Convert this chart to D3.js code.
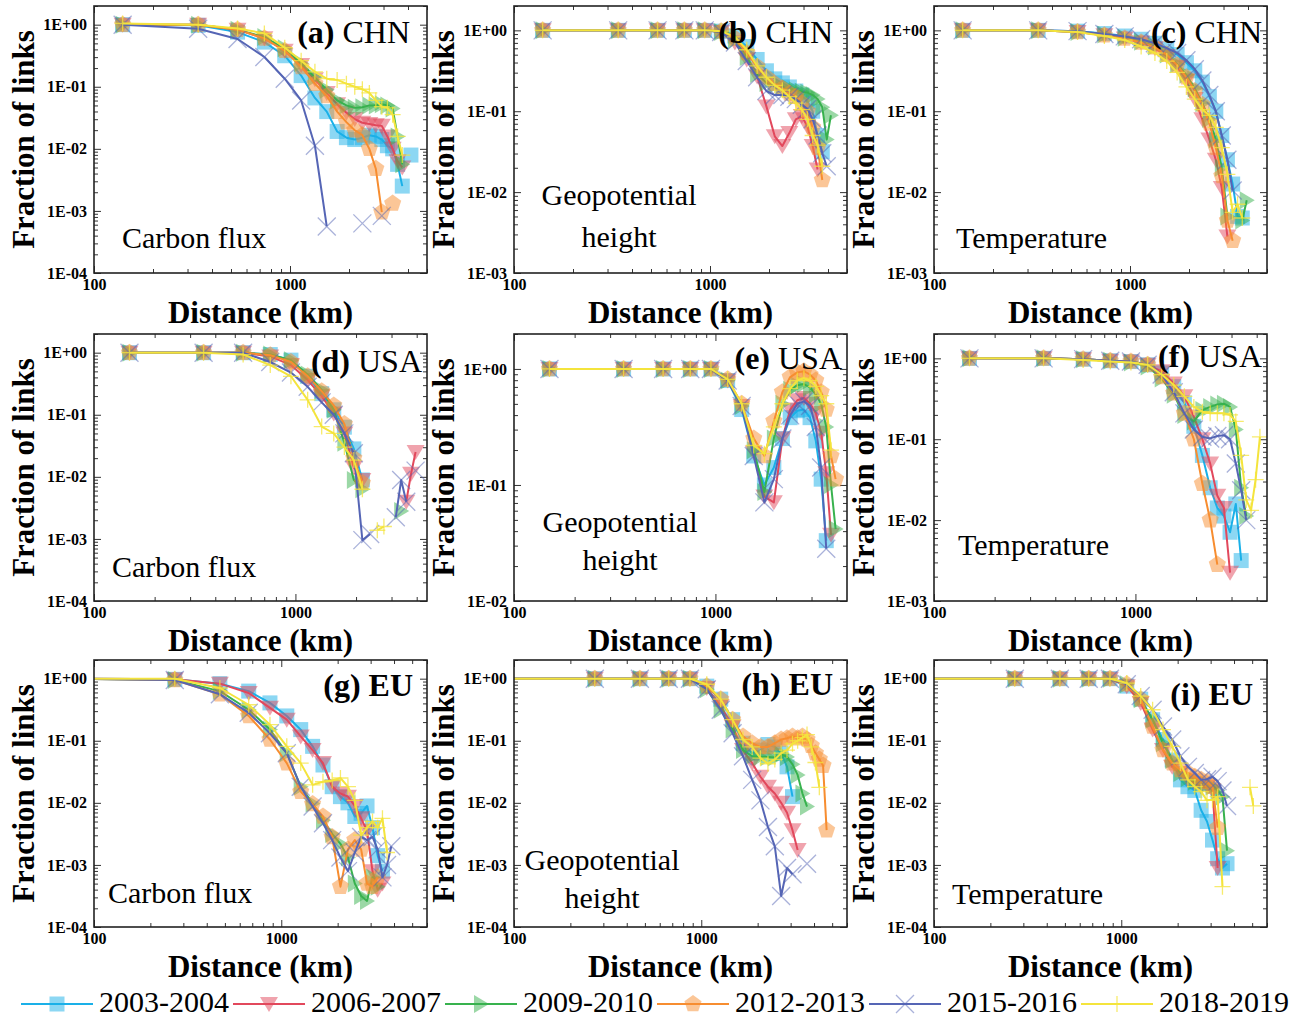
<!DOCTYPE html>
<html>
<head>
<meta charset="utf-8">
<script src="https://cdn.jsdelivr.net/npm/d3@7"></script>
<style>
  body { margin: 0; background: #fff; }
  text { font-family: "Liberation Serif", "Times New Roman", serif; }
</style>
</head>
<body>
<script>
// periods and their colours
var periods = ["2003-2004", "2006-2007", "2009-2010", "2012-2013", "2015-2016", "2018-2019"];
var colors = ["#1ab0e8", "#e2485c", "#38b24e", "#f78d30", "#5565b5", "#f4e43c"];
var shapes = ["square", "triDown", "triRight", "pentagon", "x", "plus"];

// distance bins (km)
var chnDist = [140, 340, 540, 740, 940, 1140, 1340, 1540, 1740, 1940, 2140, 2340, 2540, 2740, 2940, 3140, 3340, 3540, 3740, 3940, 4140];
var usaDist = [150, 350, 550, 750, 950, 1150, 1350, 1550, 1750, 1950, 2150, 2350, 2550, 2750, 2950, 3150, 3350, 3550, 3750, 3950, 4150];
var euDist = [70, 270, 470, 670, 870, 1070, 1270, 1470, 1670, 1870, 2070, 2270, 2470, 2670, 2870, 3070, 3270, 3470, 3670, 3870, 4070, 4270, 4470, 4670, 4870, 5070];

// fraction of links, given as log10 exponent (null = no point)
// (a) CHN carbon flux
var a2003 = [0, -0.01, -0.12, -0.28, -0.5, -0.82, -1.18, -1.4, -1.72, -1.82, -1.85, -1.82, -1.78, -1.8, -1.85, -1.95, -2.0, -2.25, -2.6, null, -2.1];
var a2006 = [0, 0, -0.08, -0.22, -0.42, -0.65, -0.88, -1.1, -1.28, -1.42, -1.52, -1.58, -1.6, -1.62, -1.63, -1.8, -2.0, -2.2, -2.3];
var a2009 = [0, 0, -0.08, -0.2, -0.38, -0.62, -0.85, -1.05, -1.22, -1.3, -1.34, -1.33, -1.3, -1.3, -1.28, -1.3, -1.35, -1.8, -2.25];
var a2012 = [0, 0, -0.08, -0.22, -0.42, -0.68, -0.95, -1.15, -1.4, -1.57, -1.7, -1.78, -2.0, -2.32, -3.02, null, -2.88];
var a2015 = [0, -0.065, -0.23, -0.52, -0.87, -1.22, -1.95, -3.25, null, null, null, -3.2, null, null, -3.08];
var a2018 = [0.02, 0, -0.06, -0.14, -0.37, -0.58, -0.76, -0.87, -0.89, -0.95, -1.0, -1.04, -1.1, -1.22, -1.32, -1.34, -1.45, -1.8, -2.1];
// (b) CHN geopotential height
var b2003 = [0, 0, 0, 0, 0, -0.01, -0.07, -0.2, -0.36, -0.5, -0.6, -0.65, -0.7, -0.75, -0.8, -0.88, -1.0, -1.3, -1.5];
var b2006 = [0, 0, 0, 0, 0, -0.02, -0.15, -0.36, -0.57, -0.94, -1.31, -1.43, -1.27, -1.1, -1.06, -1.19, -1.43, -1.72];
var b2009 = [0, 0, 0, 0, 0, -0.02, -0.12, -0.33, -0.54, -0.65, -0.68, -0.7, -0.72, -0.74, -0.76, -0.77, -0.8, -0.85, -0.95, -1.35, -1.05];
var b2012 = [0, 0, 0, 0, 0, -0.01, -0.1, -0.28, -0.45, -0.58, -0.66, -0.72, -0.78, -0.82, -0.9, -1.0, -1.2, -1.45, -1.85];
var b2015 = [0, 0, 0, 0, 0, -0.02, -0.15, -0.38, -0.58, -0.75, -0.8, -0.8, -0.82, -0.85, -0.92, -0.97, -1.1, -1.3, -1.52, -1.68];
var b2018 = [0, 0, 0, 0, 0, -0.01, -0.08, -0.24, -0.44, -0.58, -0.68, -0.74, -0.82, -0.9, -0.98, -1.1, -1.3, -1.42, -1.68];
// (c) CHN temperature
var c2003 = [0, 0, -0.01, -0.04, -0.07, -0.11, -0.16, -0.23, -0.3, -0.4, -0.5, -0.64, -0.82, -1.0, -1.3, -1.6, -1.9, -2.3, -2.32];
var c2006 = [0, 0, -0.02, -0.06, -0.1, -0.15, -0.22, -0.32, -0.45, -0.62, -0.85, -1.1, -1.35, -1.6, -1.95, -2.55];
var c2009 = [0, 0, -0.02, -0.05, -0.09, -0.14, -0.2, -0.3, -0.42, -0.55, -0.72, -0.9, -1.1, -1.35, -1.7, -2.3, null, null, -2.35, -2.1];
var c2012 = [0, 0, -0.02, -0.06, -0.1, -0.15, -0.21, -0.3, -0.43, -0.58, -0.75, -0.92, -1.15, -1.45, -1.8, -2.35, -2.6];
var c2015 = [0, 0, -0.01, -0.045, -0.075, -0.11, -0.16, -0.22, -0.28, -0.37, -0.48, -0.62, -0.8, -1.0, -1.3, -1.6, -1.98];
var c2018 = [0, 0, -0.02, -0.07, -0.12, -0.2, -0.28, -0.38, -0.52, -0.7, -0.85, -0.98, -1.05, -1.2, -1.45, -1.78, -2.25, -2.15, -2.32];
// (d) USA carbon flux
var d2003 = [0, 0, 0, -0.03, -0.12, -0.38, -0.66, -0.92, -1.2, -1.55, -2.05];
var d2006 = [0, 0, 0, -0.06, -0.2, -0.44, -0.7, -0.98, -1.3, -1.85, -2.05, null, null, null, null, null, null, -2.4, -1.95, -1.6];
var d2009 = [0, 0, 0, -0.03, -0.12, -0.35, -0.6, -0.92, -1.45, -2.05, -2.2, null, null, null, null, null, -2.55];
var d2012 = [0, 0, 0, -0.04, -0.15, -0.38, -0.62, -0.85, -1.15, -1.7, -2.1];
var d2015 = [0, 0, 0, -0.15, -0.32, -0.55, -0.8, -1.0, -1.3, -1.62, -3.02, -2.92, null, null, null, -2.65, -2.05, -2.4, null, -1.9];
var d2018 = [0, 0, -0.03, -0.2, -0.38, -0.76, -1.19, -1.3, -1.52, -1.73, -2.2, null, -2.86, -2.8];
// (e) USA geopotential height
var e2003 = [0, 0, 0, 0, 0, -0.1, -0.35, -0.75, -1.0, -0.85, -0.6, -0.42, -0.36, -0.35, -0.42, -0.62, -0.95, -1.48];
var e2006 = [0, 0, 0, 0, 0, -0.1, -0.32, -0.72, -1.1, -1.15, -0.6, -0.35, -0.27, -0.25, -0.3, -0.38, -0.55, -0.9, -1.43];
var e2009 = [0, 0, 0, 0, 0, -0.1, -0.32, -0.7, -1.06, -0.6, -0.3, -0.18, -0.14, -0.13, -0.16, -0.22, -0.3, -0.5, -1.0, -1.38];
var e2012 = [0, 0, 0, 0, 0, -0.09, -0.3, -0.6, -0.75, -0.45, -0.2, -0.07, -0.03, -0.02, -0.05, -0.1, -0.2, -0.35, -0.75, -0.95];
var e2015 = [0, 0, 0, 0, 0, -0.1, -0.32, -0.75, -1.15, -0.95, -0.6, -0.4, -0.3, -0.28, -0.32, -0.5, -0.85, -1.55];
var e2018 = [0, 0, 0, 0, 0, -0.09, -0.3, -0.66, -0.73, -0.5, -0.3, -0.17, -0.1, -0.08, -0.1, -0.15, -0.23, -0.3, -0.7];
// (f) USA temperature
var f2003 = [0, 0, -0.01, -0.03, -0.04, -0.08, -0.18, -0.35, -0.55, -0.84, -1.2, -1.6, -1.85, -1.95, -2.15, -1.8, -2.5];
var f2006 = [0, 0, -0.01, -0.03, -0.04, -0.08, -0.16, -0.31, -0.47, -0.72, -1.0, -1.3, -1.7, -1.85, -2.65];
var f2009 = [0, 0, -0.01, -0.03, -0.05, -0.1, -0.25, -0.45, -0.7, -0.78, -0.64, -0.6, -0.57, -0.56, -0.6, -0.88, -1.6, -1.95];
var f2012 = [0, 0, -0.01, -0.03, -0.04, -0.08, -0.23, -0.43, -0.68, -1.0, -1.55, -2.0, -2.55];
var f2015 = [0, 0, -0.01, -0.03, -0.04, -0.08, -0.2, -0.42, -0.68, -0.88, -0.97, -0.99, -0.96, -0.95, -1.0, -1.3, -1.63, -2.0];
var f2018 = [0, 0, -0.02, -0.04, -0.05, -0.08, -0.2, -0.33, -0.47, -0.6, -0.66, -0.68, -0.68, -0.68, -0.7, -0.78, -1.2, -1.75, -1.88, -1.5, -0.97];
// (g) EU carbon flux
var g2003 = [0, -0.01, -0.08, -0.2, -0.39, -0.6, -0.82, -1.09, -1.39, -1.74, -1.9, -2.0, -2.22, -2.17, -2.05, -2.4, -2.85, -3.1];
var g2006 = [0, -0.01, -0.08, -0.23, -0.47, -0.66, -0.93, -1.15, -1.36, -1.74, -1.85, -1.9, -2.05, -2.25, -2.45, -3.1, -3.4, -3.3];
var g2009 = [0, -0.02, -0.2, -0.5, -0.82, -1.2, -1.74, -2.01, -2.28, -2.5, -2.66, -2.88, -3.3, -3.5, -3.58, -3.2, -3.35];
var g2012 = [0, -0.02, -0.25, -0.6, -0.98, -1.36, -1.82, -2.02, -2.22, -2.55, -3.35, -2.75, -2.6, -2.75, -3.3, -3.35, -3.2];
var g2015 = [0, -0.02, -0.25, -0.55, -0.88, -1.2, -1.74, -2.06, -2.33, -2.6, -2.88, -3.1, -2.8, -2.55, -2.6, -2.55, -2.75, -3.2, -3.0, -2.7];
var g2018 = [0, 0, -0.15, -0.42, -0.74, -1.09, -1.36, -1.71, -1.66, -1.64, -1.6, -1.74, -1.96, -2.52, -2.4, -2.3, -2.4, -2.25, -2.8];
// (h) EU geopotential height
var h2003 = [0, 0, 0, 0, 0, -0.12, -0.33, -0.66, -1.04, -1.2, -1.15, -1.06, -1.1, -1.2, -1.42, -1.9];
var h2006 = [0, 0, 0, 0, 0, -0.15, -0.44, -0.77, -1.15, -1.36, -1.58, -1.74, -1.85, -2.0, -2.16, -2.44, -2.76];
var h2009 = [0, 0, 0, 0, 0, -0.17, -0.5, -0.82, -1.15, -1.25, -1.26, -1.26, -1.27, -1.22, -1.26, -1.38, -1.55, -1.85, -2.06];
var h2012 = [0, 0, 0, 0, 0, -0.12, -0.33, -0.66, -0.93, -1.04, -1.1, -1.1, -1.04, -0.98, -0.96, -0.93, -0.96, -0.93, -0.98, -1.08, -1.2, -1.3, -1.4, -2.44];
var h2015 = [0, 0, 0, 0, 0, -0.17, -0.5, -0.88, -1.25, -1.63, -1.96, -2.39, -2.7, -3.5, -3.05, -3.15, null, null, -2.98];
var h2018 = [0, 0, 0, 0, 0, -0.09, -0.33, -0.66, -0.98, -1.1, -1.28, -1.37, -1.3, -1.2, -1.15, -1.05, -1.0, -0.95, -0.9, -1.1, -1.35, -1.75];
// (i) EU temperature
var i2003 = [0, 0, 0, 0, 0, -0.12, -0.33, -0.66, -0.98, -1.31, -1.63, -1.74, -1.8, -2.12, -2.3, -2.6, -2.9, -3.05, -2.98];
var i2006 = [0, 0, 0, 0, 0, -0.12, -0.39, -0.82, -1.15, -1.42, -1.52, -1.63, -1.69, -1.74, -1.74, -1.8, -3.05];
var i2009 = [0, 0, 0, 0, 0, -0.09, -0.33, -0.66, -1.04, -1.31, -1.52, -1.6, -1.66, -1.69, -1.71, -1.74, -1.8, -1.9, -2.77];
var i2012 = [0, 0, 0, 0, 0, -0.09, -0.33, -0.77, -1.15, -1.36, -1.47, -1.52, -1.58, -1.63, -1.66, -1.74, -2.4];
var i2015 = [0, 0, 0, 0, 0, -0.09, -0.28, -0.5, -0.77, -0.98, -1.25, -1.42, -1.52, -1.63, -1.62, -1.58, -1.65, -1.8, -2.05];
var i2018 = [0, 0, 0, 0, 0, -0.07, -0.28, -0.5, -0.82, -1.09, -1.36, -1.63, -1.74, -1.82, -1.96, -1.95, -1.9, -3.35, null, null, null, null, null, null, -1.75, -2.05];

var panels = [
    {id: "a", region: "CHN", variable: ["Carbon flux"], dist: chnDist, yMin: 1e-4, xMax: 5000, series: [a2003, a2006, a2009, a2012, a2015, a2018]},
    {id: "b", region: "CHN", variable: ["Geopotential", "height"], dist: chnDist, yMin: 1e-3, xMax: 5000, series: [b2003, b2006, b2009, b2012, b2015, b2018]},
    {id: "c", region: "CHN", variable: ["Temperature"], dist: chnDist, yMin: 1e-3, xMax: 5000, series: [c2003, c2006, c2009, c2012, c2015, c2018]},
    {id: "d", region: "USA", variable: ["Carbon flux"], dist: usaDist, yMin: 1e-4, xMax: 4500, series: [d2003, d2006, d2009, d2012, d2015, d2018]},
    {id: "e", region: "USA", variable: ["Geopotential", "height"], dist: usaDist, yMin: 1e-2, xMax: 4500, series: [e2003, e2006, e2009, e2012, e2015, e2018]},
    {id: "f", region: "USA", variable: ["Temperature"], dist: usaDist, yMin: 1e-3, xMax: 4500, series: [f2003, f2006, f2009, f2012, f2015, f2018]},
    {id: "g", region: "EU", variable: ["Carbon flux"], dist: euDist, yMin: 1e-4, xMax: 6000, series: [g2003, g2006, g2009, g2012, g2015, g2018]},
    {id: "h", region: "EU", variable: ["Geopotential", "height"], dist: euDist, yMin: 1e-4, xMax: 6000, series: [h2003, h2006, h2009, h2012, h2015, h2018]},
    {id: "i", region: "EU", variable: ["Temperature"], dist: euDist, yMin: 1e-4, xMax: 6000, series: [i2003, i2006, i2009, i2012, i2015, i2018]}
];

//Layout
var W = 1299, H = 1019;
var colLeft = [94, 514, 934], rowTop = [6, 334, 660];
var pw = 333, ph = 267;
// title: offset from right edge / top ; label: x, baselines from panel origin
var textPos = {
    a: {tx: 17, ty: 37, lx: 28, ly: [242], mid: false},
    b: {tx: 14, ty: 37, lx: 105, ly: [199, 241], mid: true},
    c: {tx: 5, ty: 37, lx: 22, ly: [242], mid: false},
    d: {tx: 5, ty: 38, lx: 18, ly: [243], mid: false},
    e: {tx: 5, ty: 35, lx: 106, ly: [198, 236], mid: true},
    f: {tx: 5, ty: 33, lx: 24, ly: [221], mid: false},
    g: {tx: 14, ty: 36, lx: 14, ly: [243], mid: false},
    h: {tx: 14, ty: 35, lx: 88, ly: [210, 248], mid: true},
    i: {tx: 14, ty: 45, lx: 18, ly: [244], mid: false}
};

var svg = d3.select("body").append("svg")
    .attr("width", W)
    .attr("height", H)
    .style("background", "#fff");

function markerPath(kind) {
    if (kind == "square") return "M-7.5,-7.5H7.5V7.5H-7.5Z";
    if (kind == "triDown") return "M-9,-7L9,-7L0,8Z";
    if (kind == "triRight") return "M-7,-9L-7,9L8,0Z";
    if (kind == "pentagon") {
        var pts = d3.range(5).map(function(k) {
            var a = (-90 + k * 72) * Math.PI / 180;
            return [9 * Math.cos(a), 9 * Math.sin(a)];
        });
        return "M" + pts.join("L") + "Z";
    }
    if (kind == "x") return "M-9,-9L9,9M-9,9L9,-9";
    return "M-8,0L8,0M0,-8L0,8";
}

function drawMarker(sel, k) {
    var kind = shapes[k];
    sel.attr("d", markerPath(kind));
    if (kind == "x" || kind == "plus") {
        sel.attr("fill", "none")
            .attr("stroke", colors[k])
            .attr("stroke-width", 1.3)
            .attr("stroke-opacity", kind == "x" ? 0.5 : 0.75);
    } else {
        sel.attr("fill", colors[k]).attr("fill-opacity", 0.5).attr("stroke", "none");
    }
}

function fmtE(d) {
    var e = Math.round(Math.log10(d));
    return "1E" + (e >= 0 ? "+" : "-") + (Math.abs(e) < 10 ? "0" : "") + Math.abs(e);
}

function styleAxis(a) {
    a.select(".domain").remove();
    a.selectAll(".tick line").attr("stroke", "#333").attr("stroke-width", 1);
}

panels.forEach(function(p, n) {
    var left = colLeft[n % 3], top = rowTop[Math.floor(n / 3)];
    var pos = textPos[p.id];

    var x = d3.scaleLog().domain([100, p.xMax]).range([left, left + pw]);
    var y = d3.scaleLog().domain([p.yMin, 2]).range([top + ph, top]);

    // tick values
    var e0 = Math.round(Math.log10(p.yMin));
    var yMajor = d3.range(e0, 1).map(function(e) { return Math.pow(10, e); });
    var yMinor = [];
    yMajor.forEach(function(v) {
        for (var m = 2; m <= 9; m++) if (m * v <= 2.0001) yMinor.push(m * v);
    });
    var xMajor = [100, 1000];
    var xMinor = [];
    xMajor.forEach(function(v) {
        for (var m = 2; m <= 9; m++) if (m * v <= p.xMax) xMinor.push(m * v);
    });

    var g = svg.append("g").attr("class", "panel-" + p.id);

    svg.append("clipPath").attr("id", "clip-" + p.id)
        .append("rect").attr("x", left).attr("y", top).attr("width", pw).attr("height", ph);

    // axes, ticks inward on all four sides
    var yl = g.append("g").attr("transform", "translate(" + left + ",0)")
        .call(d3.axisLeft(y).tickValues(yMajor).tickSize(-7).tickPadding(7).tickFormat(fmtE))
        .call(styleAxis);
    yl.selectAll("text").attr("font-size", 16).attr("font-weight", "bold").attr("fill", "#000")
        .style("font-family", "'Liberation Serif', serif");
    g.append("g").attr("transform", "translate(" + left + ",0)")
        .call(d3.axisLeft(y).tickValues(yMinor).tickSize(-4).tickFormat(""))
        .call(styleAxis);
    g.append("g").attr("transform", "translate(" + (left + pw) + ",0)")
        .call(d3.axisRight(y).tickValues(yMajor).tickSize(-7).tickFormat(""))
        .call(styleAxis);
    g.append("g").attr("transform", "translate(" + (left + pw) + ",0)")
        .call(d3.axisRight(y).tickValues(yMinor).tickSize(-4).tickFormat(""))
        .call(styleAxis);

    var xb = g.append("g").attr("transform", "translate(0," + (top + ph) + ")")
        .call(d3.axisBottom(x).tickValues(xMajor).tickSize(-7).tickPadding(6).tickFormat(d3.format("d")))
        .call(styleAxis);
    xb.selectAll("text").attr("font-size", 16).attr("font-weight", "bold").attr("fill", "#000")
        .style("font-family", "'Liberation Serif', serif");
    g.append("g").attr("transform", "translate(0," + (top + ph) + ")")
        .call(d3.axisBottom(x).tickValues(xMinor).tickSize(-4).tickFormat(""))
        .call(styleAxis);
    g.append("g").attr("transform", "translate(0," + top + ")")
        .call(d3.axisTop(x).tickValues(xMajor).tickSize(-7).tickFormat(""))
        .call(styleAxis);
    g.append("g").attr("transform", "translate(0," + top + ")")
        .call(d3.axisTop(x).tickValues(xMinor).tickSize(-4).tickFormat(""))
        .call(styleAxis);

    // series
    var plot = g.append("g").attr("clip-path", "url(#clip-" + p.id + ")");
    var line = d3.line()
        .defined(function(d) { return d.v != null; })
        .x(function(d) { return x(d.x); })
        .y(function(d) { return y(Math.pow(10, d.v)); });

    p.series.forEach(function(vals, k) {
        var pts = vals.map(function(v, j) { return {x: p.dist[j], v: v}; });
        plot.append("path")
            .datum(pts)
            .attr("d", line)
            .attr("fill", "none")
            .attr("stroke", colors[k])
            .attr("stroke-width", 2)
            .attr("stroke-linejoin", "round");
        plot.selectAll(".m" + k)
            .data(pts.filter(function(d) { return d.v != null; }))
            .enter()
            .append("path")
            .attr("class", "m" + k)
            .attr("transform", function(d) {
                return "translate(" + x(d.x) + "," + y(Math.pow(10, d.v)) + ")";
            })
            .call(drawMarker, k);
    });

    // frame
    g.append("rect")
        .attr("x", left).attr("y", top).attr("width", pw).attr("height", ph)
        .attr("fill", "none").attr("stroke", "#222").attr("stroke-width", 1.6);

    // title
    var t = g.append("text")
        .attr("x", left + pw - pos.tx)
        .attr("y", top + pos.ty)
        .attr("text-anchor", "end")
        .attr("font-size", 32);
    t.append("tspan").attr("font-weight", "bold").text("(" + p.id + ")");
    t.append("tspan").attr("font-weight", p.region == "EU" ? "bold" : "normal").text(" " + p.region);

    // variable label
    p.variable.forEach(function(s, j) {
        g.append("text")
            .attr("x", left + pos.lx)
            .attr("y", top + pos.ly[j])
            .attr("text-anchor", pos.mid ? "middle" : "start")
            .attr("font-size", 30)
            .text(s);
    });

    // axis titles
    g.append("text")
        .attr("transform", "translate(" + (left - 60) + "," + (top + ph / 2) + ") rotate(-90)")
        .attr("text-anchor", "middle")
        .attr("font-size", 31)
        .attr("font-weight", "bold")
        .text("Fraction of links");
    g.append("text")
        .attr("x", left + pw / 2)
        .attr("y", top + ph + 50)
        .attr("text-anchor", "middle")
        .attr("font-size", 31)
        .attr("font-weight", "bold")
        .text("Distance (km)");
});

// legend
var legend = svg.append("g");
periods.forEach(function(name, k) {
    var x0 = 21 + k * 212, yl = 1004;
    legend.append("line")
        .attr("x1", x0).attr("x2", x0 + 72)
        .attr("y1", yl).attr("y2", yl)
        .attr("stroke", colors[k]).attr("stroke-width", 2);
    legend.append("path")
        .attr("transform", "translate(" + (x0 + 36) + "," + yl + ")")
        .call(drawMarker, k);
    legend.append("text")
        .attr("x", x0 + 78)
        .attr("y", 1012)
        .attr("font-size", 30)
        .text(name);
});
</script>
</body>
</html>
